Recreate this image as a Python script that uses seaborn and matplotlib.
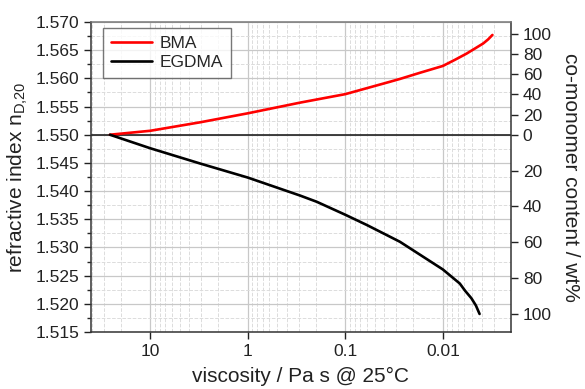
import numpy as np
import pandas as pd
import seaborn as sns
import matplotlib.pyplot as plt
from matplotlib.ticker import FixedLocator, MultipleLocator, LogLocator, NullFormatter

# viscosity (Pa s) and refractive index
visc_bma = [25.9, 10, 3.09, 1.0, 0.29, 0.1, 0.0348, 0.0275, 0.0171, 0.01, 0.0075, 0.0057,
            0.00458, 0.00385, 0.00344, 0.0031]
ri_bma = [1.5500, 1.5507, 1.5522, 1.5538, 1.5557, 1.5572, 1.5594, 1.5599, 1.5610, 1.5622, 1.5633, 1.5644,
          1.5654, 1.5662, 1.5669, 1.5677]
visc_egdma = [25.9, 10, 3.09, 1.0, 0.29, 0.196, 0.1, 0.0604, 0.0348, 0.0275, 0.0171, 0.01,
              0.0067, 0.0059, 0.0051, 0.00458, 0.0042]
ri_egdma = [1.5500, 1.5476, 1.5449, 1.5424, 1.5392, 1.5381, 1.5358, 1.5340, 1.5319, 1.5310, 1.5287, 1.5261,
            1.5236, 1.5223, 1.5210, 1.5197, 1.5182]

# right axis: 0 wt% at base index, 100 wt% at pure co-monomer index
ri_base = 1.550
ri_pure_bma = 1.5679
ri_pure_egdma = 1.5182
wt_ticks = [0, 20, 40, 60, 80, 100]

x_ticks = [10, 1, 0.1, 0.01]
x_ticklabels = ['10', '1', '0.1', '0.01']

df = pd.concat([
    pd.DataFrame({'viscosity': visc_bma, 'ri': ri_bma, 'monomer': 'BMA'}),
    pd.DataFrame({'viscosity': visc_egdma, 'ri': ri_egdma, 'monomer': 'EGDMA'}),
], ignore_index=True)

sns.set_style('white')
plt.rcParams['font.family'] = ['Liberation Sans', 'DejaVu Sans']

fig = plt.figure(figsize=(5.85, 3.89), dpi=100)
ax = fig.add_axes([91 / 585, 1 - 332 / 389, 420 / 585, 310 / 389])

ax.axhline(ri_base, color='#222222', lw=1.2, zorder=2)
sns.lineplot(data=df, x='viscosity', y='ri', hue='monomer',
             palette={'BMA': '#ff0000', 'EGDMA': '#000000'},
             lw=1.9, ax=ax, zorder=3)

ax.set_xscale('log')
ax.set_xlim(40.5, 0.002)
ax.set_ylim(1.515, 1.570)
ax.xaxis.set_major_locator(FixedLocator(x_ticks))
ax.set_xticklabels(x_ticklabels)
ax.xaxis.set_minor_locator(LogLocator(base=10, subs=np.arange(2, 10)))
ax.xaxis.set_minor_formatter(NullFormatter())
ax.yaxis.set_major_locator(MultipleLocator(0.005))
ax.yaxis.set_minor_locator(MultipleLocator(0.0025))
ax.yaxis.set_major_formatter(plt.FormatStrFormatter('%.3f'))

ax.grid(True, which='major', color='#c8c8c8', lw=0.9, ls='-')
ax.grid(True, which='minor', color='#dcdcdc', lw=0.7, ls='--')
ax.set_axisbelow(True)

ax.tick_params(axis='both', which='major', direction='out', length=5, width=1,
               labelsize=12.5, colors='#222222', left=True, bottom=True)
ax.tick_params(axis='y', which='minor', direction='out', length=3, width=1, left=True)
ax.tick_params(axis='x', which='minor', length=0)
for s in ax.spines.values():
    s.set_color('#333333')
    s.set_linewidth(1.1)
ax.spines['top'].set_color('#777777')

ax.set_xlabel('viscosity / Pa s @ 25°C', fontsize=15, color='#222222', labelpad=6)
ax.set_ylabel('refractive index n$_{\\mathregular{D{,}20}}$', fontsize=15, color='#222222', labelpad=4)

ax2 = ax.twinx()
ax2.set_ylim(ax.get_ylim())
up = [ri_base + w / 100 * (ri_pure_bma - ri_base) for w in wt_ticks]
down = [ri_base - w / 100 * (ri_base - ri_pure_egdma) for w in wt_ticks[1:]]
ax2.set_yticks(up + down)
ax2.set_yticklabels([str(w) for w in wt_ticks] + [str(w) for w in wt_ticks[1:]])
ax2.tick_params(axis='y', direction='out', length=5, width=1, labelsize=12.5,
                colors='#222222', right=True)
ax2.grid(False)
for s in ax2.spines.values():
    s.set_visible(False)
ax2.set_ylabel('co-monomer content / wt%', fontsize=15, color='#222222',
               rotation=270, labelpad=20)

leg = ax.legend(loc='upper left', bbox_to_anchor=(12 / 420, 1 - 6 / 310),
                borderaxespad=0, fontsize=12.5, frameon=True, fancybox=False,
                handlelength=2.4, handletextpad=0.4, borderpad=0.45,
                labelspacing=0.25, title=None)
leg.get_frame().set_edgecolor('#555555')
leg.get_frame().set_linewidth(1.0)
for h in leg.get_lines():
    h.set_linewidth(1.9)

fig.savefig('out.png', dpi=100)
